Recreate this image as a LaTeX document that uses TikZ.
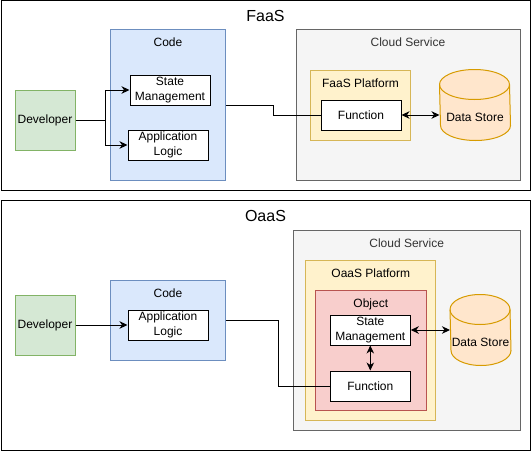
\documentclass[tikz,border=0pt]{standalone}
\usepackage{fontspec}
\setmainfont{Liberation Sans}
\usepackage{xcolor}
\usepackage{tikz}
\usetikzlibrary{arrows.meta}
\usetikzlibrary{positioning}

\definecolor{devfill}{HTML}{D5E8D4}
\definecolor{devline}{HTML}{82B366}
\definecolor{codefill}{HTML}{DAE8FC}
\definecolor{codeline}{HTML}{6C8EBF}
\definecolor{cloudfill}{HTML}{F5F5F5}
\definecolor{cloudline}{HTML}{666666}
\definecolor{cloudtext}{HTML}{333333}
\definecolor{platfill}{HTML}{FFF2CC}
\definecolor{platline}{HTML}{D6B656}
\definecolor{objfill}{HTML}{F8CECC}
\definecolor{objline}{HTML}{B85450}
\definecolor{dsfill}{HTML}{FFE6CC}
\definecolor{dsline}{HTML}{D79B00}

% cylinder round a (borderless) node: #1 node, #2 x radius
\newcommand{\datastore}[2]{%
	\draw[draw=dsline, fill=dsfill] ([yshift=-15pt]#1.north west) arc[start angle=180, end angle=0, x radius=#2, y radius=15pt] -- ([yshift=15pt]#1.south east) arc[start angle=0, end angle=-180, x radius=#2, y radius=15pt] -- cycle;
	\draw[draw=dsline] ([yshift=-15pt]#1.north west) arc[start angle=180, end angle=360, x radius=#2, y radius=15pt];
}

\begin{document}
\begin{tikzpicture}[x=1pt,y=-1pt,line width=1pt,>={Stealth[length=8pt,width=7.5pt,inset=2.5pt]},font=\fontsize{12}{15}\selectfont]
						\tikzstyle{panel}=[draw, inner sep=0pt]
						\tikzstyle{part}=[draw, fill=white, inner sep=0pt, minimum width=80pt, minimum height=30pt, align=center]
						\tikzstyle{devbox}=[draw=devline, fill=devfill, inner sep=0pt, minimum size=60pt]
						\tikzstyle{codebox}=[draw=codeline, fill=codefill, inner sep=0pt]
						\tikzstyle{cloudbox}=[draw=cloudline, fill=cloudfill, inner sep=0pt]
						\tikzstyle{platbox}=[draw=platline, fill=platfill, inner sep=0pt]
						\tikzstyle{objbox}=[draw=objline, fill=objfill, inner sep=0pt]
						\tikzstyle{storebox}=[inner sep=0pt, minimum height=70pt]
						\tikzstyle{ttl}=[anchor=base, inner sep=0pt]
						\tikzstyle{head}=[anchor=base, inner sep=0pt, font=\fontsize{16}{19}\selectfont]
						\useasboundingbox (0,0) rectangle (532,452);
						% FaaS
						\node[panel, minimum width=529pt, minimum height=189pt] 		(faas) at (265.5,95.5) {};
						\node[head] 		(faast) at ([yshift=-21pt]faas.north) {FaaS};
						\node[codebox, minimum width=115pt, minimum height=150pt] 		(code1) at (168,105) {};
						\node[ttl] 		(code1t) at ([yshift=-17.5pt]code1.north) {Code};
						\node[part] 		(sm1) at (170,90) {State\\Management};
						\node[part] 		(al1) at (168,145) {Application\\Logic};
						\node[devbox] 		(dev1) at (45,120) {Developer};
						\node[cloudbox, minimum width=224pt, minimum height=150pt] 		(cloud1) at (408,105) {};
						\node[ttl, text=cloudtext] 		(cloud1t) at ([yshift=-17.5pt]cloud1.north) {Cloud Service};
						\node[platbox, minimum width=100pt, minimum height=70pt] 		(plat1) at (360.5,105) {};
						\node[ttl] 		(plat1t) at ([yshift=-17.5pt]plat1.north) {FaaS Platform};
						\node[part] 		(fn1) at (361,115) {Function};
						\node[storebox, minimum width=70pt] 		(ds1) at (475,105) {};
						\datastore{ds1}{35pt}
						\node 		(ds1t) at ([yshift=-12.5pt]ds1.center) {Data Store};
				  \draw[->] (dev1.east) -- ++(30,0) |- (sm1.west);
				  \draw[->] (dev1.east) -- ++(30,0) |- (al1.west);
				  \draw (code1.east) -- ++(47.5,0) |- (fn1.west);
				  \draw[<->] (fn1.east) -- (fn1.east -| ds1.west);
						% OaaS
						\node[panel, minimum width=529pt, minimum height=250.5pt] 		(oaas) at (265.5,325.5) {};
						\node[head] 		(oaast) at ([yshift=-21.5pt]oaas.north) {OaaS};
						\node[devbox] 		(dev2) at (45,325) {Developer};
						\node[codebox, minimum width=115pt, minimum height=80pt] 		(code2) at (168,320) {};
						\node[ttl] 		(code2t) at ([yshift=-17.5pt]code2.north) {Code};
						\node[part] 		(al2) at (168,325) {Application\\Logic};
						\node[cloudbox, minimum width=227pt, minimum height=200pt] 		(cloud2) at (406.7,330.3) {};
						\node[ttl, text=cloudtext] 		(cloud2t) at ([yshift=-17.5pt]cloud2.north) {Cloud Service};
						\node[platbox, minimum width=130pt, minimum height=160pt] 		(plat2) at (370.8,340.3) {};
						\node[ttl] 		(plat2t) at ([yshift=-17.5pt]plat2.north) {OaaS Platform};
						\node[objbox, minimum width=111pt, minimum height=120pt] 		(obj2) at (370.8,350.3) {};
						\node[ttl] 		(obj2t) at ([yshift=-17.5pt]obj2.north) {Object};
						\node[part] 		(sm2) at (370.3,330) {State\\Management};
						\node[part] 		(fn2) [below=25pt of sm2] {Function};
						\node[storebox, minimum width=60pt] 		(ds2) at (480.5,330) {};
						\datastore{ds2}{30pt}
						\node 		(ds2t) at ([yshift=-12.5pt]ds2.center) {Data Store};
				  \draw[->] (dev2.east) -- (al2.west);
				  \draw (code2.east) -- ++(52,0) |- (fn2.west);
				  \draw[<->] (sm2) -- (fn2);
				  \draw[<->] (sm2.east) -- (sm2.east -| ds2.west);
\end{tikzpicture}
\end{document}
